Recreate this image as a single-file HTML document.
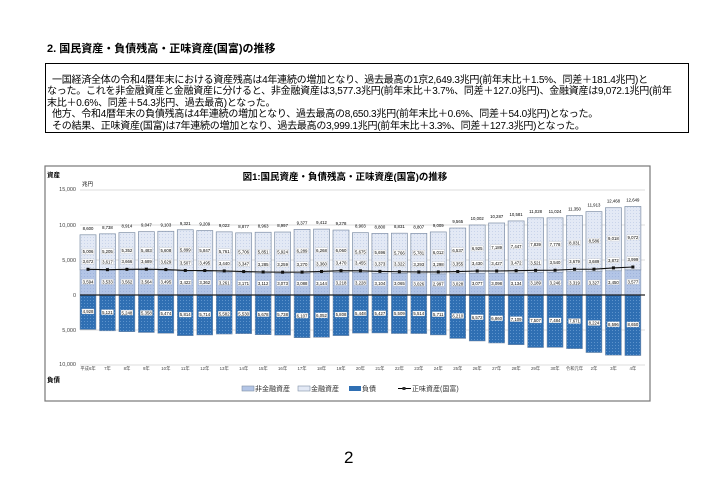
<!DOCTYPE html>
<html><head><meta charset="utf-8"><style>
body{margin:0;background:#fff;width:703px;height:485px;position:relative;overflow:hidden;font-family:"Liberation Sans","Noto Sans CJK JP",sans-serif;}
.h{position:absolute;left:47px;top:40px;font-size:11px;font-weight:bold;}
.box{position:absolute;left:45px;top:63px;width:644px;height:70px;border:1.5px solid #000;box-sizing:border-box;font-size:10px;line-height:11.4px;padding:11px 0 0 1px;white-space:nowrap;letter-spacing:-0.25px}
.pg{position:absolute;left:344px;top:448px;font-size:17px;}
svg{position:absolute;left:0;top:0}
</style></head><body>
<div class="h">2. 国民資産・負債残高・正味資産(国富)の推移</div>
<div class="box">&nbsp;&nbsp;一国経済全体の令和4暦年末における資産残高は4年連続の増加となり、過去最高の1京2,649.3兆円(前年末比＋1.5%、同差＋181.4兆円)と<br>なった。これを非金融資産と金融資産に分けると、非金融資産は3,577.3兆円(前年末比＋3.7%、同差＋127.0兆円)、金融資産は9,072.1兆円(前年<br>末比＋0.6%、同差＋54.3兆円、過去最高)となった。<br>&nbsp;&nbsp;他方、令和4暦年末の負債残高は4年連続の増加となり、過去最高の8,650.3兆円(前年末比＋0.6%、同差＋54.0兆円)となった。<br>&nbsp;&nbsp;その結果、正味資産(国富)は7年連続の増加となり、過去最高の3,999.1兆円(前年末比＋3.3%、同差＋127.3兆円)となった。</div>
<svg width="703" height="485" id="s" font-family="Liberation Sans, Noto Sans CJK JP, sans-serif">
<defs>
<pattern id="p1" width="3" height="3" patternUnits="userSpaceOnUse"><rect width="3" height="3" fill="#e3e9f5"/><rect width="1" height="1" fill="#c9d4ea"/></pattern>
<pattern id="p2" width="3" height="3" patternUnits="userSpaceOnUse"><rect width="3" height="3" fill="#b3c5e6"/><rect width="1" height="1" fill="#9fb4dc"/></pattern>
<pattern id="p3" width="3" height="3" patternUnits="userSpaceOnUse"><rect width="3" height="3" fill="#2f6fb3"/><rect width="1" height="1" fill="#5d93cc"/></pattern>
</defs>
<rect x="45" y="166" width="605" height="235" fill="none" stroke="#777" stroke-width="1.2"/>
<text x="345" y="180" font-size="9.5" font-weight="bold" text-anchor="middle">図1:国民資産・負債残高・正味資産(国富)の推移</text>
<text x="47" y="177" font-size="6.5" font-weight="bold">資産</text>
<text x="82" y="186" font-size="5.5">兆円</text>
<text x="47" y="382" font-size="6.5" font-weight="bold">負債</text>
<g font-size="5.5" fill="#444" text-anchor="end">
<text x="76" y="191">15,000</text><text x="76" y="227">10,000</text><text x="76" y="262">5,000</text><text x="76" y="297">0</text><text x="76" y="332">5,000</text><text x="76" y="366">10,000</text></g>
<g stroke="#d0d0d0" stroke-width="0.8"><line x1="80" x2="645" y1="190" y2="190"/><line x1="80" x2="645" y1="225" y2="225"/><line x1="80" x2="645" y1="260" y2="260"/><line x1="80" x2="645" y1="330" y2="330"/><line x1="80" x2="645" y1="365" y2="365"/></g>
<g id="bars"></g>
<line x1="80" x2="645" y1="295" y2="295" stroke="#222" stroke-width="1.3"/>
<g id="lbl" font-size="4.3" text-anchor="middle"></g>
<g font-size="7" fill="#333">
<rect x="242" y="386" width="12" height="5" fill="#b3c5e6" stroke="#7f8fa6" stroke-width="0.6"/><text x="255" y="391">非金融資産</text>
<rect x="298" y="386" width="12" height="5" fill="#e3e9f5" stroke="#7f8fa6" stroke-width="0.6"/><text x="311" y="391">金融資産</text>
<rect x="349" y="386" width="12" height="5" fill="#2f6fb3"/><text x="362" y="391">負債</text>
<line x1="398" x2="411" y1="388.5" y2="388.5" stroke="#000" stroke-width="1"/><rect x="402.5" y="387" width="3" height="3"/><text x="412" y="391">正味資産(国富)</text></g>
</svg>
<div class="pg">2</div>
<script>
var T=[8600,8738,8914,9047,9103,9321,9209,9022,8877,8963,8997,9377,9412,9278,8903,8800,8831,8807,9009,9565,10002,10287,10581,11028,11024,11350,11913,12468,12649];
var N=[3594,3533,3562,3564,3495,3422,3362,3261,3171,3112,3073,3088,3144,3218,3228,3104,3065,3026,2997,3028,3077,3098,3134,3189,3246,3319,3327,3450,3577];
var L=[4928,5121,5248,5358,5474,5814,5714,5582,5530,5678,5738,6107,6052,5808,5448,5427,5509,5514,5711,6210,6572,6860,7109,7507,7484,7671,8224,8596,8650];
var Y=["平成6年","7年","8年","9年","10年","11年","12年","13年","14年","15年","16年","17年","18年","19年","20年","21年","22年","23年","24年","25年","26年","27年","28年","29年","30年","令和元年","2年","3年","4年"];
var NS="http://www.w3.org/2000/svg",b=document.getElementById("bars"),g=document.getElementById("lbl");
function el(p,t,a,tx){var e=document.createElementNS(NS,t);for(var k in a)e.setAttribute(k,a[k]);if(tx)e.textContent=tx;p.appendChild(e);return e;}
function f(v){return v.toLocaleString("en-US");}
var k=0.007,y0=295,pts=[];
function lab(x,y,t){el(g,"rect",{x:x-6,y:y-3.3,width:12,height:5,fill:"#fff",stroke:"#bbb","stroke-width":0.3});el(g,"text",{x:x,y:y+0.9},t);}
for(var i=0;i<29;i++){var x=88+i*19.46,w=16,F=T[i]-N[i],W=T[i]-L[i];
el(b,"rect",{x:x-w/2,y:y0-T[i]*k,width:w,height:F*k,fill:"url(#p1)",stroke:"#7f8fa6","stroke-width":0.7});
el(b,"rect",{x:x-w/2,y:y0-N[i]*k,width:w,height:N[i]*k,fill:"url(#p2)",stroke:"#7f8fa6","stroke-width":0.5});
el(b,"rect",{x:x-w/2,y:y0,width:w,height:L[i]*k,fill:"url(#p3)",stroke:"#7f8fa6","stroke-width":0.5});
el(g,"text",{x:x,y:y0-T[i]*k-5},f(T[i]));
lab(x,y0-(N[i]+F/2)*k,f(F));
lab(x,y0-W*k-7,f(W));
lab(x,y0-N[i]*k/2,f(N[i]));
lab(x,y0+L[i]*k/2,f(L[i]));
el(g,"text",{x:x,y:370,"font-size":4.3,fill:"#444"},Y[i]);
pts.push(x+","+(y0-W*k));}
el(g,"polyline",{points:pts.join(" "),fill:"none",stroke:"#111","stroke-width":1.1});
pts.forEach(function(p){var a=p.split(",");el(g,"rect",{x:a[0]-1.5,y:a[1]-1.5,width:3,height:3,fill:"#111"});});
</script>
</body></html>
